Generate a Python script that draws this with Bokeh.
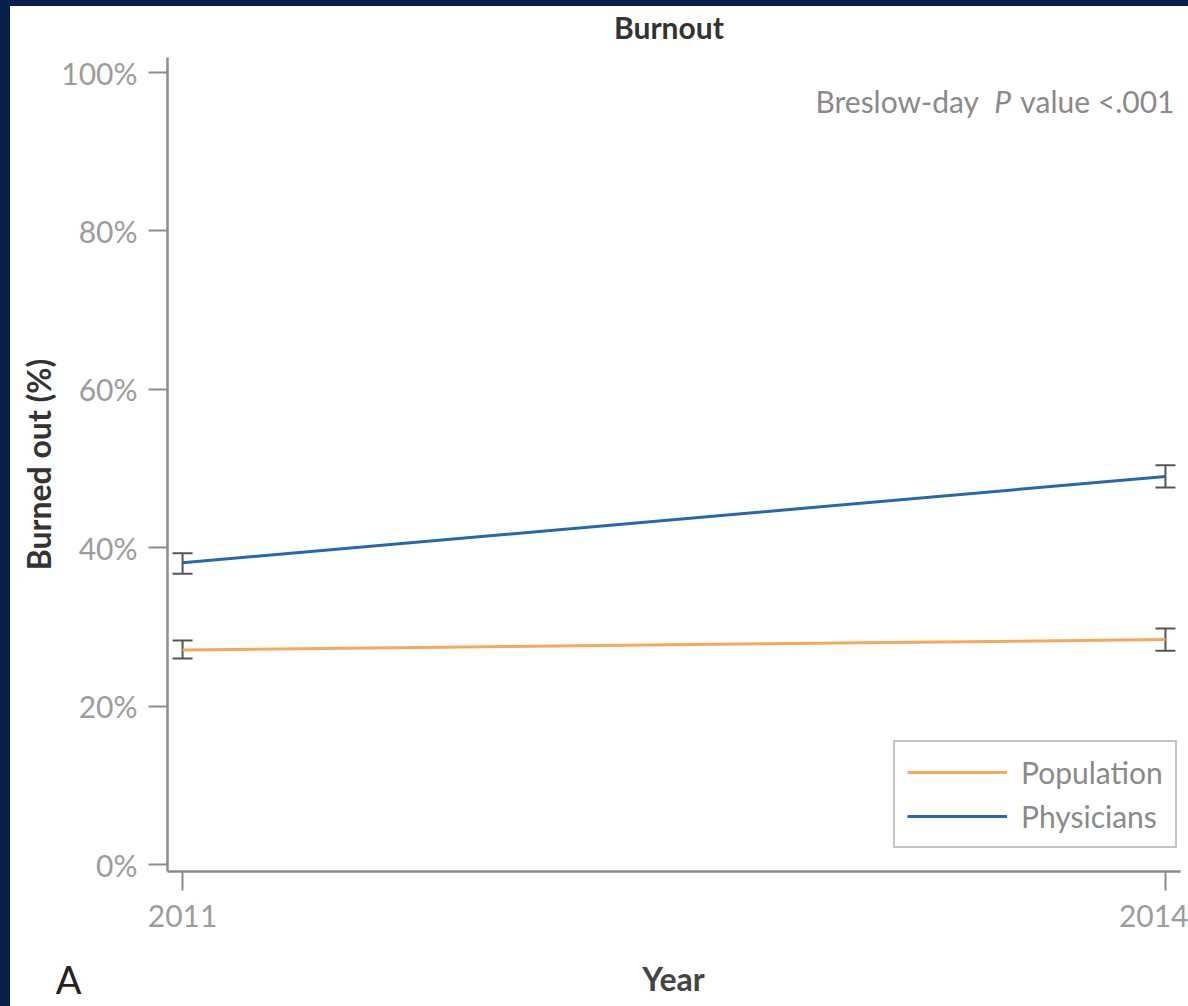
from bokeh.plotting import figure
from bokeh.models import (Range1d, FixedTicker, ColumnDataSource, Whisker, TeeHead,
                          Legend, LegendItem, Label)
from bokeh.layouts import column
from bokeh.embed import file_html
from bokeh.resources import INLINE

# ---- data ----
years = [2011, 2014]
population = [27.1, 28.4]
population_lower = [26.0, 27.0]
population_upper = [28.3, 29.8]
physicians = [38.1, 49.0]
physicians_lower = [36.7, 47.6]
physicians_upper = [39.3, 50.4]
y_ticks = [0, 20, 40, 60, 80, 100]
y_tick_labels = ["0%", "20%", "40%", "60%", "80%", "100%"]
x_ticks = [2011, 2014]

NAVY = "#06204b"
ORANGE = "#f5a95e"
BLUE = "#2767ad"
AXIS_GRAY = "#8c8c8c"
TICK_TEXT = "#9c9c9c"
FONT = "Lato"


def bare(fig):
    fig.outline_line_color = None
    fig.xgrid.visible = False
    fig.ygrid.visible = False
    fig.background_fill_color = None
    fig.border_fill_color = None


# ---- top strip: chart title ----
p0 = figure(width=1178, height=44, x_range=Range1d(0, 1), y_range=Range1d(0, 44),
            output_backend="svg", toolbar_location=None,
            x_axis_location=None, y_axis_location=None, min_border=0)
bare(p0)
p0.add_layout(Label(x=0.495, y=24, text="Burnout", text_align="center", text_baseline="middle",
                    text_font=FONT, text_font_size="30px", text_font_style="bold",
                    text_color="#333333"))

# ---- main chart ----
p = figure(width=1178, height=900,
           x_range=Range1d(2010.954, 2014.046), y_range=Range1d(-0.88, 101.9),
           output_backend="svg", toolbar_location=None,
           min_border_left=157, min_border_right=8, min_border_top=7, min_border_bottom=79)
bare(p)

for ax in (p.xaxis[0], p.yaxis[0]):
    ax.axis_line_color = AXIS_GRAY
    ax.axis_line_width = 2.5
    ax.major_tick_line_color = AXIS_GRAY
    ax.major_tick_line_width = 2
    ax.major_tick_in = 0
    ax.major_tick_out = 19
    ax.minor_tick_line_color = None
    ax.major_label_text_font = FONT
    ax.major_label_text_font_size = "30px"
    ax.major_label_text_color = TICK_TEXT

p.yaxis[0].ticker = FixedTicker(ticks=y_ticks)
p.yaxis[0].major_label_overrides = {t: l for t, l in zip(y_ticks, y_tick_labels)}
p.yaxis[0].major_label_standoff = 11
p.yaxis[0].axis_label = "Burned out (%)"
p.yaxis[0].axis_label_standoff = 0
p.yaxis[0].axis_label_text_font = FONT
p.yaxis[0].axis_label_text_font_style = "bold"
p.yaxis[0].axis_label_text_color = "#333333"
p.yaxis[0].axis_label_text_font_size = "32px"

p.xaxis[0].ticker = FixedTicker(ticks=x_ticks)
p.xaxis[0].major_label_standoff = 14

src = ColumnDataSource(dict(year=years,
                            pop=population, pop_lo=population_lower, pop_hi=population_upper,
                            phy=physicians, phy_lo=physicians_lower, phy_hi=physicians_upper))

r_pop = p.line("year", "pop", source=src, line_color=ORANGE, line_width=3)
r_phy = p.line("year", "phy", source=src, line_color=BLUE, line_width=3)

for lo, hi in (("pop_lo", "pop_hi"), ("phy_lo", "phy_hi")):
    w = Whisker(base="year", lower=lo, upper=hi, source=src, dimension="height",
                line_color="#555555", line_width=2,
                upper_head=TeeHead(size=20, line_color="#555555", line_width=2),
                lower_head=TeeHead(size=20, line_color="#555555", line_width=2))
    p.add_layout(w)

legend = Legend(items=[LegendItem(label="Population", renderers=[r_pop]),
                       LegendItem(label="Physicians", renderers=[r_phy])],
                location=(726, 23), orientation="vertical",
                glyph_width=100, glyph_height=34, label_height=34,
                label_standoff=14, spacing=8, padding=12, margin=0,
                label_text_font=FONT, label_text_font_size="30px",
                label_text_color="#8a8a8a",
                border_line_color="#8a8a8a", border_line_width=2,
                background_fill_color="white", background_fill_alpha=1.0)
p.add_layout(legend, "center")


def xd(px):
    return 2011 + (px - 182) / 327.7


def yd(py):
    return (864 - py) / 7.92


for txt, xpx, style in (("Breslow-day", 815, "normal"), ("P", 994, "italic"), ("value <.001", 1020, "normal")):
    p.add_layout(Label(x=xd(xpx), y=yd(100), text=txt, text_align="left", text_baseline="middle",
                       text_font=FONT, text_font_size="30px", text_font_style=style,
                       text_color="#8a8a8a"))

# ---- bottom strip: x-axis title and panel letter ----
p2 = figure(width=1178, height=56, x_range=Range1d(167, 1180), y_range=Range1d(0, 56),
            output_backend="svg", toolbar_location=None,
            x_axis_location=None, y_axis_location="left", min_border=0)
bare(p2)
ay = p2.yaxis[0]
ay.ticker = FixedTicker(ticks=[])
ay.axis_line_color = None
ay.major_tick_line_color = None
ay.minor_tick_line_color = None
ay.major_label_text_font_size = "0px"
ay.axis_label = "A"
ay.axis_label_orientation = "horizontal"
ay.axis_label_standoff = 86
ay.axis_label_text_font = FONT
ay.axis_label_text_font_size = "38px"
ay.axis_label_text_font_style = "normal"
ay.axis_label_text_color = "#222222"

p2.add_layout(Label(x=673, y=28, text="Year", text_align="center", text_baseline="middle",
                    text_font=FONT, text_font_size="32px", text_font_style="bold",
                    text_color="#444444"))

layout = column(p0, p, p2, spacing=0,
                styles={"background-color": "white",
                        "border-left": f"10px solid {NAVY}",
                        "border-top": f"6px solid {NAVY}"})

with open("out.html", "w") as f:
    f.write(file_html(layout, INLINE))
